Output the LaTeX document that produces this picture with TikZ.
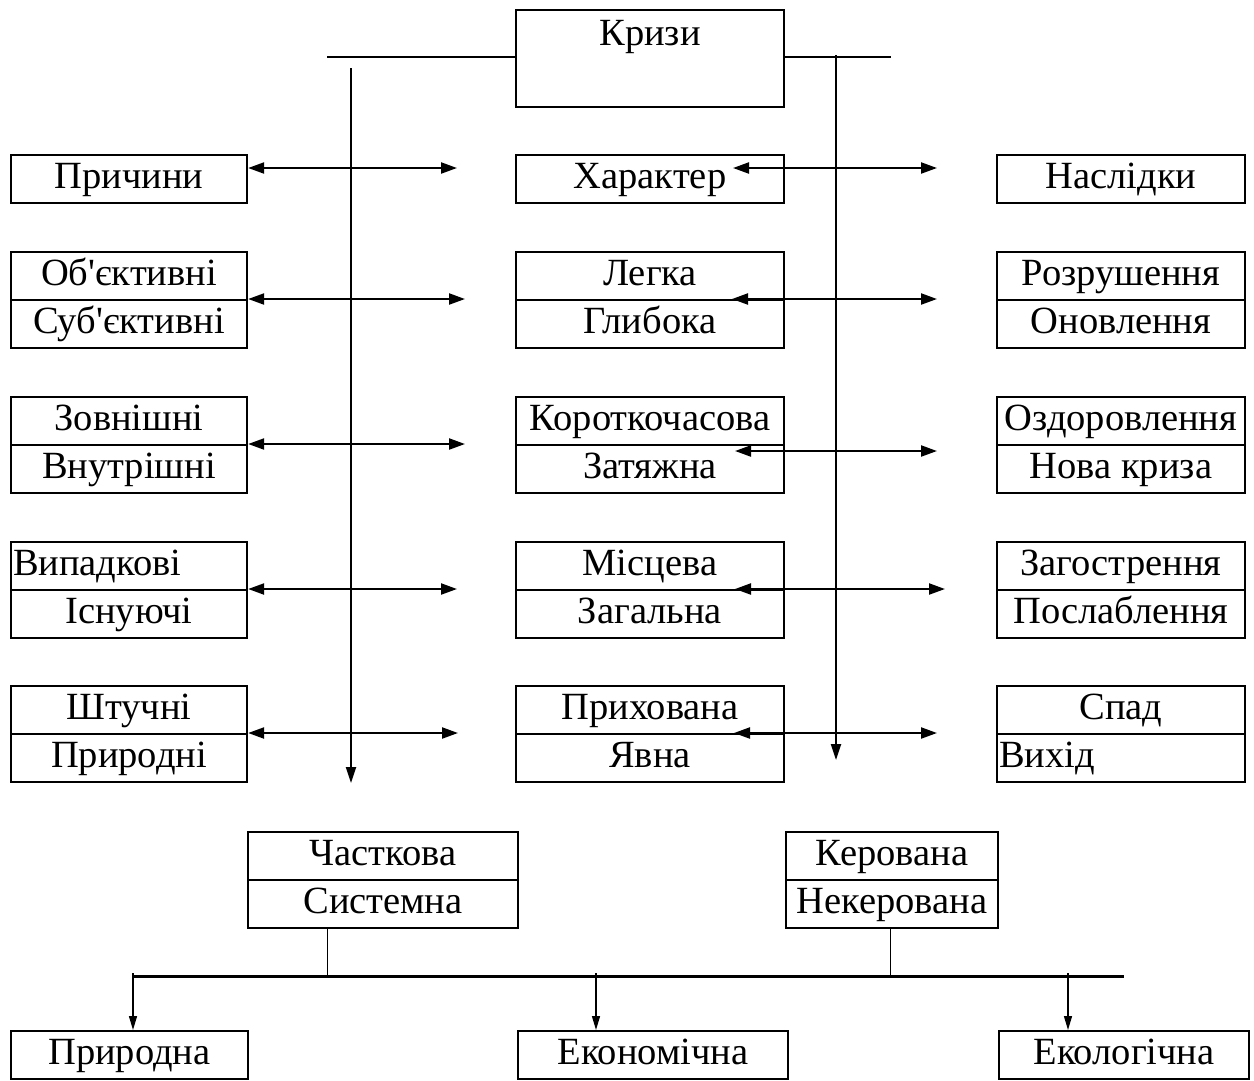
\documentclass[tikz,border=0pt]{standalone}
\usepackage{fontspec}
\setmainfont{Liberation Serif}[Ligatures=TeXOff]
\usetikzlibrary{arrows.meta}
\begin{document}
\begin{tikzpicture}[x=1pt,y=-1pt,
  fnt/.style={font=\fontsize{38.5}{42}\selectfont},
  cell/.style={draw, line width=2.3pt, inner xsep=0pt, inner ysep=0pt,
    text height=33pt, text depth=15pt, fnt, anchor=north},
  colL/.style={cell, minimum width=236pt},
  colC/.style={cell, minimum width=268pt},
  colR/.style={cell, minimum width=248pt},
  conn/.style={line width=2.2pt},
  dbl/.style={conn, {Triangle[length=16pt,width=11pt]}-{Triangle[length=16pt,width=11pt]}},
  arr/.style={conn, -{Triangle[length=16pt,width=10pt]}},
  darr/.style={line width=1.4pt, -{Triangle[length=14pt,width=8pt]}},
  thinline/.style={line width=1pt},
  thickline/.style={line width=3pt}
]
\useasboundingbox (0,0) rectangle (1254,1080);

% top box
\node[draw, line width=2.3pt, minimum width=268pt, inner sep=0pt, text height=35pt,
  text depth=62pt, fnt, anchor=north] (kr) at (650,9) {Кризи};

% row 1
\node[colL] (r1l) at (129,154) {Причини};
\node[colC] (r1c) at (650,154) {Характер};
\node[colR] (r1r) at (1121,154) {Наслідки};

% row 2
\node[colL] (r2la) at (129,251) {Об'єктивні};
\node[colL] (r2lb) at (129,299) {Суб'єктивні};
\node[colC] (r2ca) at (650,251) {Легка};
\node[colC] (r2cb) at (650,299) {Глибока};
\node[colR] (r2ra) at (1121,251) {Розрушення};
\node[colR] (r2rb) at (1121,299) {Оновлення};

% row 3
\node[colL] (r3la) at (129,396) {Зовнішні};
\node[colL] (r3lb) at (129,444) {Внутрішні};
\node[colC] (r3ca) at (650,396) {Короткочасова};
\node[colC] (r3cb) at (650,444) {Затяжна};
\node[colR] (r3ra) at (1121,396) {Оздоровлення};
\node[colR] (r3rb) at (1121,444) {Нова криза};

% row 4
\node[colL, text width=232pt, align=left] (r4la) at (129,541) {Випадкові};
\node[colL] (r4lb) at (129,589) {Існуючі};
\node[colC] (r4ca) at (650,541) {Місцева};
\node[colC] (r4cb) at (650,589) {Загальна};
\node[colR] (r4ra) at (1121,541) {Загострення};
\node[colR] (r4rb) at (1121,589) {Послаблення};

% row 5
\node[colL] (r5la) at (129,685) {Штучні};
\node[colL] (r5lb) at (129,733) {Природні};
\node[colC] (r5ca) at (650,685) {Прихована};
\node[colC] (r5cb) at (650,733) {Явна};
\node[colR] (r5ra) at (1121,685) {Спад};
\node[colR, text width=244pt, align=left] (r5rb) at (1121,733) {Вихід};

% lower boxes
\node[cell, minimum width=270pt] (pa) at (383,831) {Часткова};
\node[cell, minimum width=270pt] (pb) at (383,879) {Системна};
\node[cell, minimum width=212pt] (ka) at (892,831) {Керована};
\node[cell, minimum width=212pt] (kb) at (892,879) {Некерована};

\node[cell, minimum width=237pt] (bp) at (129.5,1030) {Природна};
\node[cell, minimum width=270pt] (be) at (653,1030) {Економічна};
\node[cell, minimum width=250pt] (bk) at (1124,1030) {Екологічна};

% top horizontal line
\coordinate (tl) at (327,57);
\coordinate (tr) at (891,57);
\draw[conn] (tl) -- (kr.west |- tl);
\draw[conn] (kr.east |- tr) -- (tr);

% vertical arrows
\coordinate (vl0) at (351,68);
\coordinate (vl1) at (351,783);
\coordinate (vr0) at (836,55);
\coordinate (vr1) at (836,760);
\draw[arr] (vl0) -- (vl1);
\draw[arr] (vr0) -- (vr1);

% left double arrows
\coordinate (l1) at (457,168);
\coordinate (l2) at (465,299);
\coordinate (l3) at (465,444);
\coordinate (l4) at (457,589);
\coordinate (l5) at (458,733);
\draw[dbl] (r1l.east |- l1) -- (l1);
\draw[dbl] (r2lb.north east) -- (l2);
\draw[dbl] (r3lb.north east) -- (l3);
\draw[dbl] (r4lb.north east) -- (l4);
\draw[dbl] (r5lb.north east) -- (l5);

% centre double arrows
\coordinate (m1a) at (733,168); \coordinate (m1b) at (937,168);
\coordinate (m2a) at (732,299); \coordinate (m2b) at (937,299);
\coordinate (m3a) at (735,451); \coordinate (m3b) at (937,451);
\coordinate (m4a) at (735,589); \coordinate (m4b) at (945,589);
\coordinate (m5a) at (734,733); \coordinate (m5b) at (937,733);
\draw[dbl] (m1a) -- (m1b);
\draw[dbl] (m2a) -- (m2b);
\draw[dbl] (m3a) -- (m3b);
\draw[dbl] (m4a) -- (m4b);
\draw[dbl] (m5a) -- (m5b);

% bottom tree
\coordinate (hl) at (133,976);
\coordinate (hr) at (1124,976);
\coordinate (j1) at (327,976);
\coordinate (j2) at (890,976);
\draw[thickline] (hl) -- (hr);
\draw[thinline] (pb.south -| j1) -- (j1);
\draw[thinline] (kb.south -| j2) -- (j2);
\coordinate (a1) at (133,973);
\coordinate (a2) at (596,973);
\coordinate (a3) at (1068,973);
\draw[darr] (a1) -- (bp.north -| a1);
\draw[darr] (a2) -- (be.north -| a2);
\draw[darr] (a3) -- (bk.north -| a3);
\end{tikzpicture}
\end{document}
